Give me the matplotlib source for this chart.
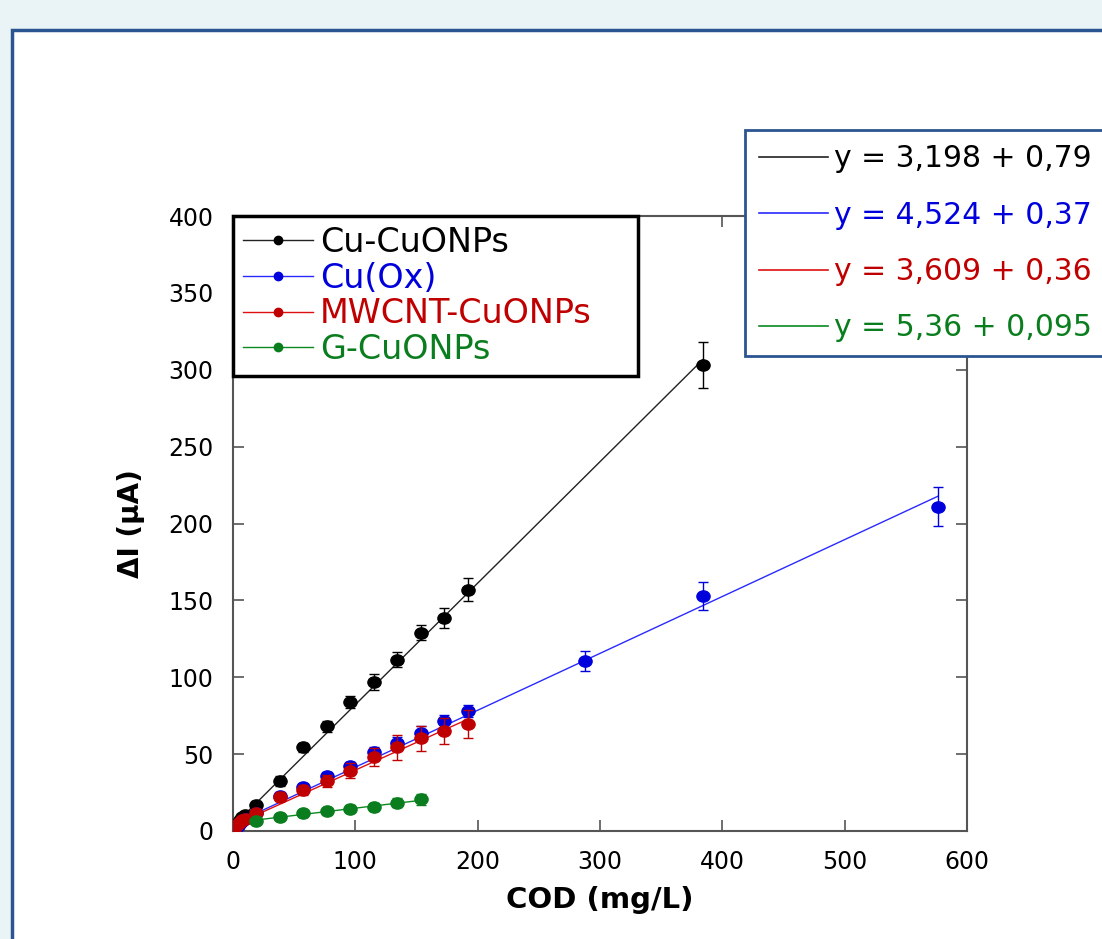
import matplotlib
matplotlib.use('Agg')
import matplotlib.pyplot as plt
from matplotlib.lines import Line2D
from matplotlib.patches import Rectangle
from matplotlib.path import Path
import numpy as np

plt.rcParams['font.family'] = ['DejaVu Sans']

# concentrations (mg/L COD)
x_low = [0.96, 1.92, 3.84, 5.76, 7.68, 9.6, 19.2, 38.4, 57.6, 76.8, 96, 115.2, 134.4, 153.6, 172.8, 192]
x_cu = x_low + [384]
y_cu = [2, 3.5, 5, 7, 9.3, 10.5, 17, 32.5, 54.5, 68, 84, 97, 111.5, 129, 138.5, 157, 303]
e_cu = [1, 1, 1, 1, 1.5, 1.5, 2.5, 3, 3, 3.5, 4, 5, 5, 5, 6.5, 7.5, 15]

x_ox = x_low + [288, 384, 576]
y_ox = [1, 2, 3.5, 5, 6.5, 8, 11.5, 23, 28.5, 36, 42.3, 51.6, 57.4, 64, 71.7, 78, 110.6, 153, 211]
e_ox = [0.5, 0.5, 0.5, 1, 1, 1, 1.5, 2, 2, 2.5, 2.5, 3, 3.5, 4, 4, 4, 6.5, 9, 12.5]

x_mw = x_low
y_mw = [1.5, 3, 4.5, 6, 7, 8, 11.5, 22.3, 26.7, 32.5, 39.2, 48.3, 54.4, 60.2, 65.1, 69.4]
e_mw = [0.5, 0.5, 0.5, 1, 1, 1, 1.5, 3, 3.5, 4, 5, 6, 8, 8, 8.5, 9]

x_g = [19.2, 38.4, 57.6, 76.8, 96, 115.2, 134.4, 153.6]
y_g = [6.7, 9.3, 11.4, 12.9, 14.6, 15.7, 18.3, 20.5]
e_g = [1.5, 1.5, 2, 2, 2.5, 2.5, 3, 3.5]

names = ['Cu-CuONPs', 'Cu(Ox)', 'MWCNT-CuONPs', 'G-CuONPs']
intercepts = [3.198, 4.524, 3.609, 5.36]
slopes = [0.79, 0.37, 0.36, 0.095]
# the equation box runs off the right edge, only this much is visible
eq_labels = ['y = 3,198 + 0,79', 'y = 4,524 + 0,37', 'y = 3,609 + 0,36', 'y = 5,36 + 0,095']

colors = ['#000000', '#0000dd', '#c00000', '#0a7d1e']
line_colors = ['#222222', '#2a2aff', '#dd1111', '#0a8a20']
xs = [x_cu, x_ox, x_mw, x_g]
ys = [y_cu, y_ox, y_mw, y_g]
es = [e_cu, e_ox, e_mw, e_g]
fit_start = [0, 0, 0, 19.2]

# slightly wide dot, the original picture is stretched sideways
circ = Path.unit_circle()
dot = Path(circ.vertices * np.array([1.0, 0.85]), circ.codes)

fig = plt.figure(figsize=(11.02, 9.39), dpi=100)
fig.patch.set_facecolor('#eaf4f7')
# white panel with blue frame
fig.patches.append(Rectangle((12 / 1102, -0.1), 1.2, 1.1 - 30 / 939, transform=fig.transFigure,
                             facecolor='white', edgecolor='#2b5591', lw=2.5, zorder=-10))

ax = fig.add_axes([233 / 1102, 108 / 939, 734 / 1102, 615 / 939])
ax.set_facecolor('white')

order = [0, 1, 3, 2]  # red drawn on top
handles = {}
for i in order:
    xf = np.array([fit_start[i], max(xs[i])])
    ax.plot(xf, intercepts[i] + slopes[i] * xf, color=line_colors[i], lw=1, zorder=2 + i)
    ax.errorbar(xs[i], ys[i], yerr=es[i], fmt='none', ecolor=colors[i],
                elinewidth=1, capsize=3.5, capthick=1, zorder=3 + i)
    ax.plot(xs[i], ys[i], linestyle='none', marker=dot, ms=9.5, color=colors[i], zorder=3.5 + i)
    handles[i] = Line2D([], [], color=line_colors[i], lw=1, marker='o', ms=6,
                        markerfacecolor=colors[i], markeredgecolor=colors[i])

ax.set_xlim(0, 600)
ax.set_ylim(0, 400)
ax.set_xticks(range(0, 601, 100))
ax.set_yticks(range(0, 401, 50))
ax.tick_params(direction='in', length=8, width=1.2, color='#555555', labelsize=17,
               pad=14, top=True, right=True)
for s in ax.spines.values():
    s.set_color('#555555')
    s.set_linewidth(1.5)

ax.set_xlabel('COD (mg/L)', fontsize=21, fontweight='bold', labelpad=8)
ax.set_ylabel('ΔI (µA)', fontsize=20, fontweight='bold', labelpad=17)

leg1 = ax.legend([handles[i] for i in range(4)], names, loc='upper left',
                 bbox_to_anchor=(0, 0.0, 405 / 734, 1.0), mode='expand',
                 fontsize=24, labelcolor=colors, handlelength=2.1, handletextpad=0.2,
                 labelspacing=0.08, borderpad=0.3, borderaxespad=0, fancybox=False,
                 framealpha=1)
leg1.get_frame().set_edgecolor('black')
leg1.get_frame().set_linewidth(2.5)
leg1.set_zorder(10)

eq_handles = [Line2D([], [], color=line_colors[i], lw=1.2) for i in range(4)]
leg2 = fig.legend(eq_handles, eq_labels, loc='upper left',
                  bbox_to_anchor=(745 / 1102, 1 - 130 / 939), fontsize=21.5, labelcolor=colors,
                  handlelength=2.3, handletextpad=0.2, labelspacing=0.92, borderpad=0.47,
                  borderaxespad=0, fancybox=False, framealpha=1)
leg2.get_frame().set_edgecolor('#2b5591')
leg2.get_frame().set_linewidth(2)
leg2.set_zorder(10)

fig.savefig('out.png', dpi=100, facecolor=fig.get_facecolor())
